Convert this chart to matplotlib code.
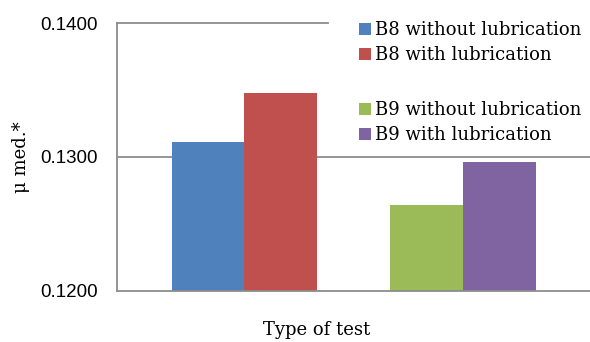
import matplotlib
matplotlib.use("Agg")
import matplotlib.pyplot as plt
import numpy as np

# Data
series_labels = ["B8 without lubrication", "B8 with lubrication", " ",
                 "B9 without lubrication", "B9 with lubrication"]
series_values = [0.1311, 0.1348, np.nan, 0.1264, 0.1296]
series_colors = ["#4F81BD", "#C0504D", "none", "#9BBB59", "#8064A2"]
yticks = [0.12, 0.13, 0.14]
ytick_labels = ["0.1200", "0.1300", "0.1400"]

W, H = 590, 342
fig = plt.figure(figsize=(W / 100, H / 100), dpi=100)
ax = fig.add_axes([117 / W, (H - 290.5) / H, (590 - 117) / W, (290.5 - 23) / H])

n = len(series_values)
group_width = 364 / 473
bw = group_width / n
offsets = -group_width / 2 + bw * (np.arange(n) + 0.5)
handles = []
for off, v, c, lab in zip(offsets, series_values, series_colors, series_labels):
    b = ax.bar(off, v, width=bw, color=c, label=lab, zorder=2, linewidth=0)
    handles.append(b)

ax.set_xlim(-0.5, 0.5)
ax.set_ylim(0.12, 0.14)
ax.set_yticks(yticks)
ax.set_yticklabels(ytick_labels, family="Liberation Sans", fontsize=13.5)
ax.set_xticks([])
ax.tick_params(axis="y", length=0, pad=14)
gridc = "#8C8C8C"
ax.axhline(yticks[1], color=gridc, linewidth=1.3, zorder=1)
ax.axhline(yticks[2], xmin=0, xmax=(328 - 117) / 473, color=gridc,
           linewidth=1.3, zorder=1, clip_on=False)
for s in ["top", "right"]:
    ax.spines[s].set_visible(False)
for s in ["left", "bottom"]:
    ax.spines[s].set_color(gridc)
    ax.spines[s].set_linewidth(1.3)

serif = "DejaVu Serif"
fs = 13
common = dict(loc="center left", bbox_transform=fig.transFigure,
              prop={"family": serif, "size": fs}, frameon=False,
              handlelength=0.66, handleheight=0.66, handletextpad=0.25,
              labelspacing=0.38, borderpad=0, borderaxespad=0)
leg1 = ax.legend(handles=handles[0:2], labels=series_labels[0:2],
                 bbox_to_anchor=(359 / W, (H - 42.5) / H), **common)
ax.add_artist(leg1)
leg2 = ax.legend(handles=handles[3:5], labels=series_labels[3:5],
                 bbox_to_anchor=(359 / W, (H - 122.5) / H), **common)

fig.text(21 / W, (H - 157) / H, "μ med.*", rotation=90, family=serif,
         fontsize=fs, ha="center", va="center")
fig.text(317 / W, (H - 330) / H, "Type of test", family=serif,
         fontsize=fs, ha="center", va="center")

fig.savefig("out.png", dpi=100)
